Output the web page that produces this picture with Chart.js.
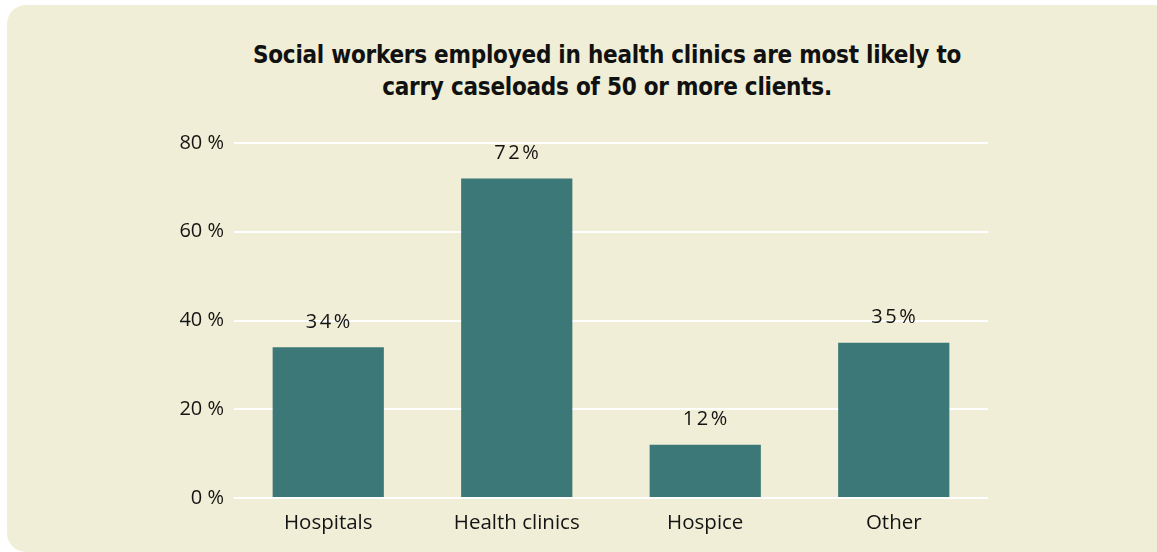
<!DOCTYPE html>
<html>
<head>
<meta charset="utf-8">
<script src="https://cdn.jsdelivr.net/npm/chart.js@4"></script>
<style>
  html, body { margin: 0; padding: 0; background: #ffffff; }
  body { width: 1157px; height: 552px; position: relative; overflow: hidden; }
  #panel {
    position: absolute; left: 7px; top: 5px; width: 1170px; height: 547px;
    background: #F0EED6; border-radius: 19px;
  }
  #title {
    position: absolute; left: 0; top: 39px; width: 1214px;
    text-align: center; font-family: 'Liberation Sans Narrow', 'DejaVu Sans Condensed', sans-serif;
    font-weight: bold; font-size: 24px; letter-spacing: -0.25px; line-height: 32px; color: #111;
  }
  #wrap { position: absolute; left: 0; top: 0; width: 1157px; height: 552px; }
</style>
</head>
<body>
<div id="panel"></div>
<div id="title">Social workers employed in health clinics are most likely to<br>carry caseloads of 50 or more clients.</div>
<div id="wrap"><canvas id="chart" width="1157" height="552"></canvas></div>
<script>
const categories = ['Hospitals', 'Health clinics', 'Hospice', 'Other'];
const shares = [34, 72, 12, 35];
const yTicks = [0, 20, 40, 60, 80];

const barColor = '#3D7878';
const textColor = '#141414';

// etiquetas encima de cada barra
const valueLabels = {
    id: 'valueLabels',
    afterDatasetsDraw(chart) {
        const ctx = chart.ctx;
        const meta = chart.getDatasetMeta(0);
        ctx.save();
        ctx.font = '20px "Open Sans"';
        ctx.fillStyle = textColor;
        ctx.textAlign = 'center';
        ctx.textBaseline = 'middle';
        ctx.letterSpacing = '2.5px';
        meta.data.forEach((bar, i) => {
            ctx.fillText(shares[i] + '%', bar.x + 1, bar.y - 25);
        });
        ctx.restore();
    }
};

new Chart(document.getElementById('chart'), {
    type: 'bar',
    data: {
        labels: categories,
        datasets: [{
            data: shares,
            backgroundColor: barColor,
            borderWidth: 0,
            barPercentage: 0.59,
            categoryPercentage: 1
        }]
    },
    options: {
        responsive: false,
        animation: false,
        devicePixelRatio: 1,
        layout: { padding: { top: 143, right: 169, bottom: 0, left: 0 } },
        plugins: {
            legend: { display: false },
            tooltip: { enabled: false },
            title: { display: false }
        },
        scales: {
            x: {
                grid: { display: false },
                border: { display: false },
                ticks: {
                    color: textColor,
                    font: { family: 'Open Sans', size: 20.5 },
                    padding: 5
                },
                afterFit: scale => { scale.height = 54; }
            },
            y: {
                min: 0,
                max: 80,
                afterBuildTicks: scale => { scale.ticks = yTicks.map(v => ({ value: v })); },
                grid: { color: '#ffffff', lineWidth: 2, drawTicks: false },
                border: { display: false },
                ticks: {
                    color: textColor,
                    font: { family: 'Open Sans', size: 20 },
                    padding: 10,
                    callback: value => value + ' %'
                },
                afterFit: scale => { scale.width = 234; }
            }
        }
    },
    plugins: [valueLabels]
});
</script>
</body>
</html>
